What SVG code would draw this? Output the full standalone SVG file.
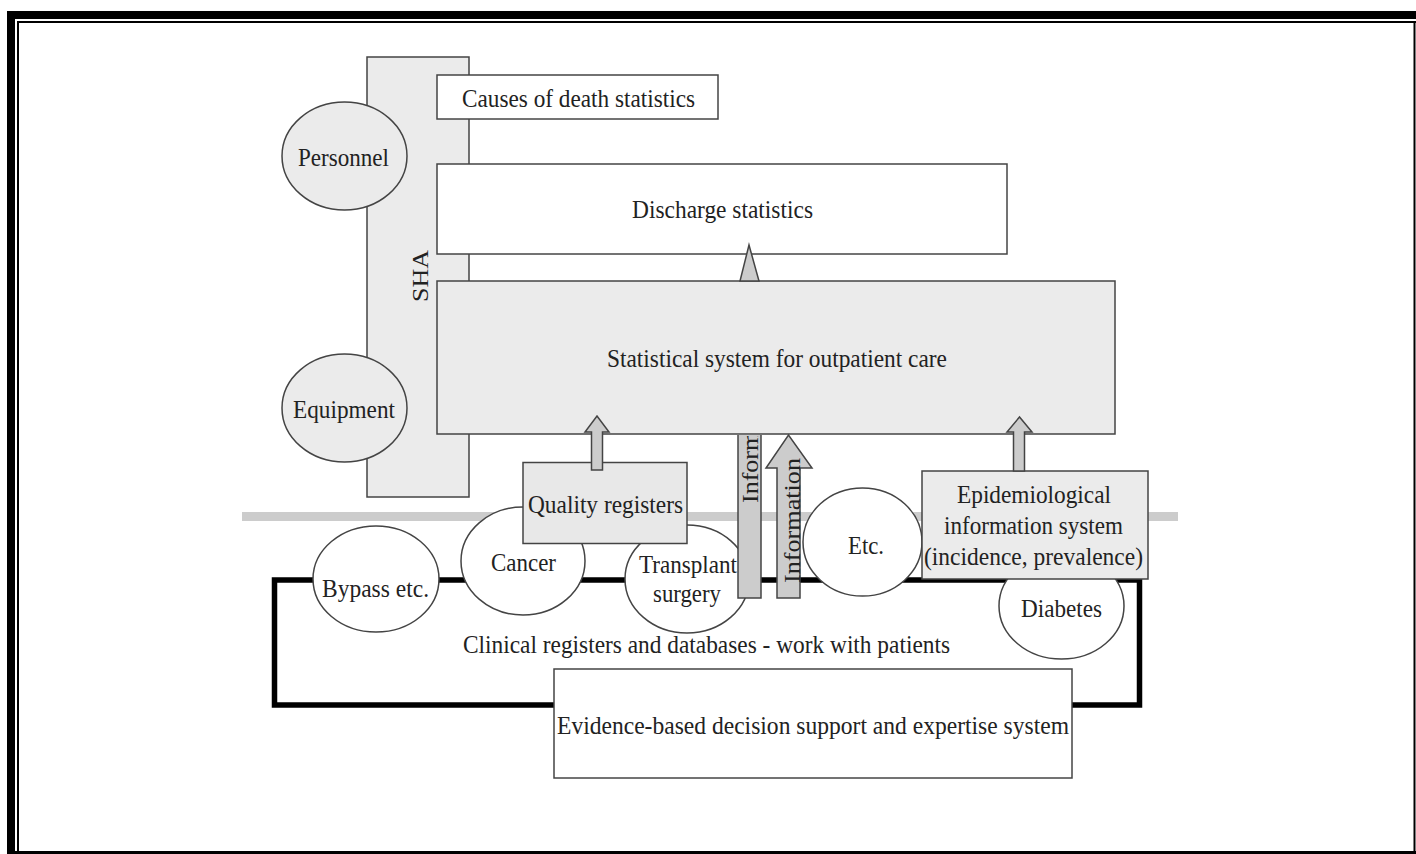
<svg xmlns="http://www.w3.org/2000/svg" width="1416" height="854" viewBox="0 0 1416 854">
  <style>
    .lbl { font-family: "Liberation Serif", "Times New Roman", serif; font-size: 26px; fill: #222; }
    .box { stroke: #444; stroke-width: 1.5; }
    .white { fill: #ffffff; }
    .shade { fill: #ebebeb; }
    .arrow { fill: #cccccc; stroke: #444; stroke-width: 1.5; stroke-linejoin: miter; }
  </style>
  <defs>
    <clipPath id="below-stat">
      <rect x="700" y="436" width="120" height="200"/>
    </clipPath>
  </defs>

  <rect x="0" y="0" width="1416" height="854" fill="#ffffff"/>

  <!-- page frame: thick outer rule with a thin inner rule -->
  <g id="frame" fill="#000">
    <rect x="7" y="11" width="1409" height="8"/>
    <rect x="7" y="11" width="8" height="843"/>
    <rect x="7" y="851" width="1409" height="3"/>
    <rect x="17" y="21" width="1399" height="2"/>
    <rect x="17" y="21" width="2" height="833"/>
    <rect x="1413.5" y="21" width="2" height="830"/>
  </g>

  <!-- divider between statistics level and clinical level -->
  <rect id="divider" x="242" y="512" width="936" height="9" fill="#cccccc"/>

  <!-- clinical registers container -->
  <g id="clinical">
    <rect x="274.5" y="580" width="865" height="125" fill="none" stroke="#000" stroke-width="5.5"/>
    <text class="lbl" x="463" y="653" textLength="487" lengthAdjust="spacingAndGlyphs">Clinical registers and databases - work with patients</text>
  </g>

  <!-- SHA column -->
  <g id="sha">
    <rect class="box shade" x="367" y="57" width="102" height="440"/>
    <text class="lbl" transform="translate(428,302) scale(0.9,1) rotate(-90)">SHA</text>
  </g>

  <g id="personnel">
    <ellipse class="box shade" cx="344.5" cy="156" rx="62.5" ry="54"/>
    <text class="lbl" x="298" y="166" textLength="91" lengthAdjust="spacingAndGlyphs">Personnel</text>
  </g>

  <g id="equipment">
    <ellipse class="box shade" cx="344.5" cy="408" rx="62.5" ry="54"/>
    <text class="lbl" x="293" y="418" textLength="102" lengthAdjust="spacingAndGlyphs">Equipment</text>
  </g>

  <g id="causes-of-death">
    <rect class="box white" x="437" y="75" width="281" height="44"/>
    <text class="lbl" x="462" y="107" textLength="233" lengthAdjust="spacingAndGlyphs">Causes of death statistics</text>
  </g>

  <g id="discharge">
    <rect class="box white" x="437" y="164" width="570" height="90"/>
    <text class="lbl" x="632" y="218" textLength="181" lengthAdjust="spacingAndGlyphs">Discharge statistics</text>
  </g>

  <!-- clinical register ellipses -->
  <g id="bypass">
    <ellipse class="box white" cx="376" cy="579" rx="63" ry="53"/>
    <text class="lbl" x="322" y="597" textLength="107" lengthAdjust="spacingAndGlyphs">Bypass etc.</text>
  </g>

  <g id="cancer">
    <ellipse class="box white" cx="523" cy="561" rx="62" ry="54"/>
    <text class="lbl" x="491" y="571" textLength="65" lengthAdjust="spacingAndGlyphs">Cancer</text>
  </g>

  <g id="transplant">
    <ellipse class="box white" cx="687" cy="579" rx="62" ry="54"/>
    <text class="lbl" x="639" y="573" textLength="98" lengthAdjust="spacingAndGlyphs">Transplant</text>
    <text class="lbl" x="653" y="602" textLength="68" lengthAdjust="spacingAndGlyphs">surgery</text>
  </g>

  <g id="etc">
    <ellipse class="box white" cx="862.5" cy="542" rx="59.5" ry="54"/>
    <text class="lbl" x="848" y="554" textLength="36" lengthAdjust="spacingAndGlyphs">Etc.</text>
  </g>

  <g id="diabetes">
    <ellipse class="box white" cx="1061.5" cy="606" rx="62.5" ry="53"/>
    <text class="lbl" x="1021" y="617" textLength="81" lengthAdjust="spacingAndGlyphs">Diabetes</text>
  </g>

  <g id="outpatient">
    <rect class="box shade" x="437" y="281" width="678" height="153"/>
    <text class="lbl" x="607" y="367" textLength="340" lengthAdjust="spacingAndGlyphs">Statistical system for outpatient care</text>
  </g>

  <g id="quality">
    <rect class="box" fill="#e8e8e8" x="523" y="462.5" width="164" height="81"/>
    <text class="lbl" x="528" y="513" textLength="155" lengthAdjust="spacingAndGlyphs">Quality registers</text>
  </g>

  <g id="epidemiological">
    <rect class="box shade" x="922" y="471" width="226" height="108"/>
    <text class="lbl" x="957" y="503" textLength="154" lengthAdjust="spacingAndGlyphs">Epidemiological</text>
    <text class="lbl" x="944" y="534" textLength="179" lengthAdjust="spacingAndGlyphs">information system</text>
    <text class="lbl" x="924" y="565" textLength="219" lengthAdjust="spacingAndGlyphs">(incidence, prevalence)</text>
  </g>

  <!-- block arrows feeding the statistical systems -->
  <g id="connectors">
    <polygon class="arrow" points="749,245 740,281 759,281"/>
    <polygon class="arrow" points="591.5,470 591.5,432 585,432 597,416 609,432 602.5,432 602.5,470"/>
    <polygon class="arrow" points="1013.5,471 1013.5,432 1007,432 1019.5,417 1032,432 1024.5,432 1024.5,471"/>
    <path class="arrow" d="M738,435 V598 H761 V435"/>
    <g clip-path="url(#below-stat)">
      <text class="lbl" transform="translate(758,503) scale(0.9,1) rotate(-90)">Inform</text>
    </g>
    <polygon class="arrow" points="777,598 777,468 766,468 788.5,435 812,468 800,468 800,598"/>
    <text class="lbl" transform="translate(800,583) scale(0.9,1) rotate(-90)" textLength="125" lengthAdjust="spacingAndGlyphs">Information</text>
  </g>

  <g id="evidence">
    <rect class="box white" x="554" y="669" width="518" height="109"/>
    <text class="lbl" x="557" y="734" textLength="512" lengthAdjust="spacingAndGlyphs">Evidence-based decision support and expertise system</text>
  </g>
</svg>
